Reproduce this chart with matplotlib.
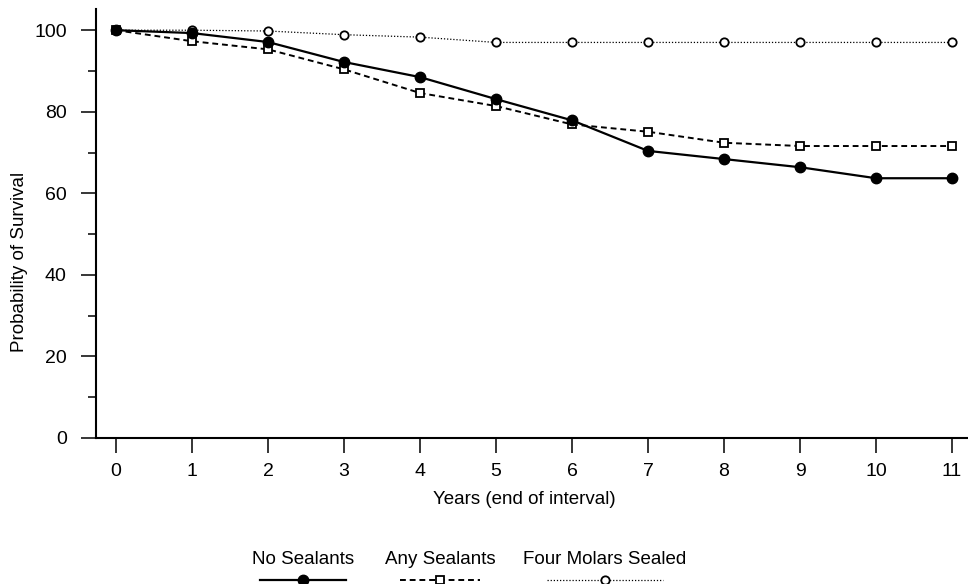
import matplotlib
matplotlib.use("Agg")
import matplotlib.pyplot as plt
from matplotlib.lines import Line2D

plt.rcParams['font.family'] = ['Liberation Sans', 'DejaVu Sans']

years = list(range(12))
no_sealants = [100, 99.3, 97.1, 92.2, 88.5, 83.1, 77.9, 70.4, 68.4, 66.4, 63.7, 63.7]
any_sealants = [100, 97.3, 95.3, 90.4, 84.6, 81.4, 76.9, 75.1, 72.4, 71.6, 71.6, 71.6]
four_molars = [100, 100, 99.8, 98.9, 98.3, 97.0, 97.0, 97.0, 97.0, 97.0, 97.0, 97.0]
labels = ["No Sealants", "Any Sealants", "Four Molars Sealed"]

fig = plt.figure(figsize=(9.68, 5.84), dpi=100)
ax = fig.add_axes([96 / 968, 1 - 438 / 584, 872 / 968, 429 / 584])

ax.plot(years, four_molars, color='black', linestyle=(0, (1, 1.5)), linewidth=0.9,
        marker='o', markersize=6, markerfacecolor='white', markeredgewidth=1.3, zorder=3)
ax.plot(years, any_sealants, color='black', linestyle=(0, (3, 2)), linewidth=1.4,
        marker='s', markersize=5.2, markerfacecolor='white', markeredgewidth=1.3, zorder=4)
ax.plot(years, no_sealants, color='black', linestyle='-', linewidth=1.6,
        marker='o', markersize=7.5, markerfacecolor='black', zorder=5)

ax.set_xlim(-0.263, 11.21)
ax.set_ylim(0, 105.2)
ax.set_xticks(years)
ax.set_yticks([0, 20, 40, 60, 80, 100])
ax.set_yticks([10, 30, 50, 70, 90], minor=True)
ax.tick_params(axis='both', which='major', labelsize=14, length=10.5, width=1.1, direction='out')
ax.tick_params(axis='y', which='minor', length=6, width=1.1, direction='out')
ax.tick_params(axis='x', pad=7.5)
ax.tick_params(axis='y', pad=10.5)
for s in ['top', 'right']:
    ax.spines[s].set_visible(False)
ax.spines['left'].set_linewidth(1.5)
ax.spines['bottom'].set_linewidth(1.5)
ax.set_xlabel("Years (end of interval)", fontsize=13.5, va='center', ha='center')
ax.xaxis.set_label_coords(0.491, (438 - 500) / 429)
ax.set_ylabel("Probability of Survival", fontsize=13.5, va='center', ha='center')
ax.yaxis.set_label_coords((20 - 96) / 872, 0.41)

# legend: label above line sample
leg_x = [303 / 968, 440 / 968, 605 / 968]
leg_half = [43 / 968, 40 / 968, 58 / 968]
styles = [dict(linestyle='-', linewidth=1.6, marker='o', markersize=7.5, markerfacecolor='black'),
          dict(linestyle=(0, (3, 2)), linewidth=1.4, marker='s', markersize=5.2, markerfacecolor='white',
               markeredgewidth=1.3),
          dict(linestyle=(0, (1, 1.5)), linewidth=0.9, marker='o', markersize=6, markerfacecolor='white',
               markeredgewidth=1.3)]
ty = 1 - 559 / 584
ly = 1 - 580 / 584
for lab, cx, hw, st in zip(labels, leg_x, leg_half, styles):
    fig.text(cx, ty, lab, ha='center', va='center', fontsize=13.5)
    fig.add_artist(Line2D([cx - hw, cx + hw], [ly, ly], color='black',
                          transform=fig.transFigure, **{k: v for k, v in st.items() if k.startswith('line')}))
    fig.add_artist(Line2D([cx], [ly], color='black', transform=fig.transFigure, linestyle='none',
                          **{k: v for k, v in st.items() if not k.startswith('line')}))

fig.savefig("out.png", dpi=100)
